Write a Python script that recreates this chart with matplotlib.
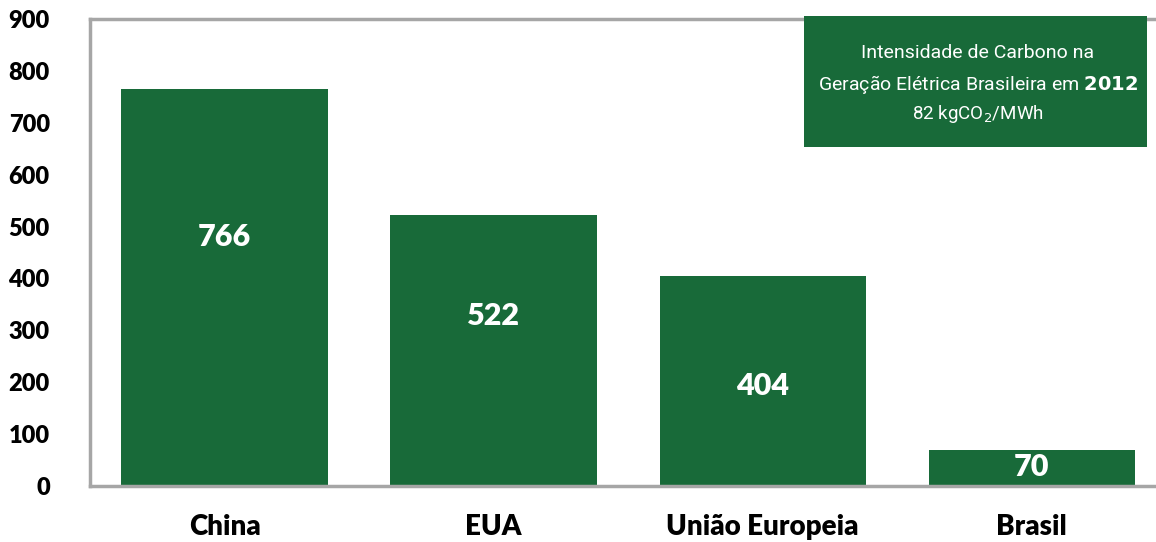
import matplotlib
matplotlib.use('Agg')
import matplotlib.pyplot as plt
from matplotlib.patches import Rectangle

# data
paises = ['China', 'EUA', 'União Europeia', 'Brasil']
intensidade = [766, 522, 404, 70]
label_y = [480, 328, 193, 37]   # where the numbers sit inside the bars
yticks = list(range(0, 1000, 100))

verde = '#186a39'
cinza = '#a6a6a6'

plt.rcParams['font.family'] = ['Lato', 'DejaVu Sans']

fig = plt.figure(figsize=(11.56, 5.42), dpi=100)
ax = fig.add_axes([0.0779, 0.1033, 0.931, 0.8616])

x = range(len(paises))
ax.bar(x, intensidade, width=0.767, color=verde, zorder=2)

for i, (v, ly) in enumerate(zip(intensidade, label_y)):
    ax.text(i, ly, str(v), ha='center', va='center', color='white',
            fontsize=22, fontweight='heavy')

ax.set_xlim(-0.5, 3.5)
ax.set_ylim(0, 900)
ax.set_yticks(yticks)
ax.set_yticklabels([str(t) for t in yticks], fontsize=17, fontweight='heavy')
ax.set_xticks(list(x))
ax.set_xticklabels(paises, fontsize=20, fontweight='heavy')
ax.tick_params(axis='both', length=0)
ax.tick_params(axis='y', pad=29)
ax.tick_params(axis='x', pad=20)

for s in ['left', 'top', 'bottom', 'right']:
    ax.spines[s].set_color(cinza)
    ax.spines[s].set_linewidth(2.5)

# caixa de destaque
fig.patches.append(Rectangle((0.6955, 0.7288), 0.2967, 0.2417,
                             transform=fig.transFigure, facecolor=verde,
                             edgecolor='none', zorder=5))
cx = 0.846
fonte = ['Roboto', 'DejaVu Sans']
fig.text(cx, 0.902, 'Intensidade de Carbono na', ha='center', va='center',
         color='white', fontsize=14, family=fonte, zorder=6)
fig.text(cx, 0.845, 'Geração Elétrica Brasileira em $\\mathbf{2012}$', ha='center', va='center',
         color='white', fontsize=14, family=fonte, zorder=6)
fig.text(cx, 0.79, '82 kgCO$_2$/MWh', ha='center', va='center',
         color='white', fontsize=13.5, family=fonte, zorder=6)

fig.savefig('out.png', dpi=100)
